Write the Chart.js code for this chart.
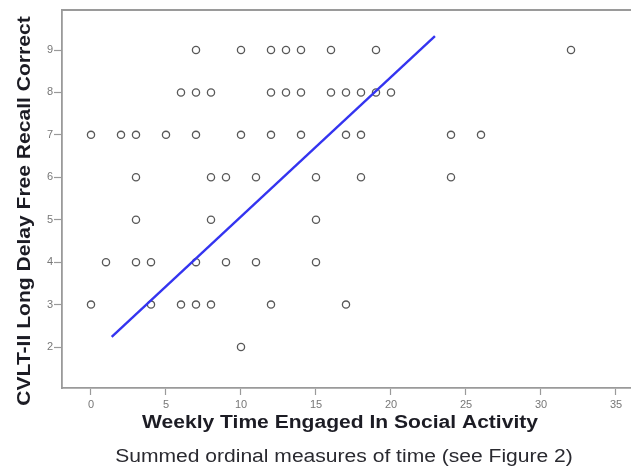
<!DOCTYPE html>
<html>
<head>
<meta charset="utf-8">
<script src="https://cdn.jsdelivr.net/npm/chart.js@4"></script>
<style>
  html, body { margin: 0; padding: 0; background: #fff; overflow: hidden; }
  canvas { display: block; }
</style>
</head>
<body>
<canvas id="chart" width="660" height="466"></canvas>
<script>
// Weekly social activity (summed ordinal time) vs. CVLT-II long delay free recall
const socialTime = [
  7, 10, 12, 13, 14, 16, 19, 32,
  6, 7, 8, 12, 13, 14, 16, 17, 18, 19, 20,
  0, 2, 3, 5, 7, 10, 12, 14, 17, 18, 24, 26,
  3, 8, 9, 11, 15, 18, 24,
  3, 8, 15,
  1, 3, 4, 7, 9, 11, 15,
  0, 4, 6, 7, 8, 12, 17,
  10
];
const recallCorrect = [
  9, 9, 9, 9, 9, 9, 9, 9,
  8, 8, 8, 8, 8, 8, 8, 8, 8, 8, 8,
  7, 7, 7, 7, 7, 7, 7, 7, 7, 7, 7, 7,
  6, 6, 6, 6, 6, 6, 6,
  5, 5, 5,
  4, 4, 4, 4, 4, 4, 4,
  3, 3, 3, 3, 3, 3, 3,
  2
];

// Fitted line endpoints
const fitX = [1.38, 22.93];
const fitY = [2.24, 9.33];

// Axis ticks
const xTickValues = [0, 5, 10, 15, 20, 25, 30, 35];
const yTickValues = [2, 3, 4, 5, 6, 7, 8, 9];

const xTitle = 'Weekly Time Engaged In Social Activity';
const xSubtitle = 'Summed ordinal measures of time (see Figure 2)';
const yTitle = 'CVLT-II Long Delay Free Recall Correct';

const points = socialTime.map((x, i) => ({ x, y: recallCorrect[i] }));
const fitLine = fitX.map((x, i) => ({ x, y: fitY[i] }));

const FRAME = '#9a9a9a';

// Axis captions drawn in a slightly widened bold face
const captions = {
  id: 'captions',
  afterDraw(chart) {
    const ctx = chart.ctx;
    const put = (text, x, y, font, color, rot) => {
      ctx.save();
      ctx.translate(x, y);
      if (rot) ctx.rotate(rot);
      ctx.scale(1.17, 1);
      ctx.font = font;
      ctx.fillStyle = color;
      ctx.textAlign = 'center';
      ctx.textBaseline = 'middle';
      ctx.fillText(text, 0, 0);
      ctx.restore();
    };
    const fam = '"Liberation Sans", Arial, sans-serif';
    put(xTitle, 340, 423, 'bold 18px ' + fam, '#1c1c24');
    put(xSubtitle, 344, 457, '18px ' + fam, '#2a2a30');
    put(yTitle, 25, 211, 'bold 18px ' + fam, '#1c1c24', -Math.PI / 2);
  }
};

// Top and right edges of the plot frame
const frame = {
  id: 'frame',
  beforeDatasetsDraw(chart) {
    const { ctx, chartArea: a } = chart;
    ctx.save();
    ctx.strokeStyle = FRAME;
    ctx.lineWidth = 1.8;
    ctx.beginPath();
    ctx.moveTo(a.left, a.top);
    ctx.lineTo(a.right, a.top);
    ctx.lineTo(a.right, a.bottom);
    ctx.stroke();
    ctx.restore();
  }
};

new Chart(document.getElementById('chart'), {
  type: 'scatter',
  data: {
    datasets: [
      {
        type: 'scatter',
        data: points,
        pointStyle: 'circle',
        pointRadius: 3.6,
        pointBorderWidth: 1.3,
        pointBorderColor: '#585858',
        pointBackgroundColor: 'rgba(0,0,0,0)',
        order: 2
      },
      {
        type: 'line',
        data: fitLine,
        borderColor: '#3434f0',
        borderWidth: 2.4,
        pointRadius: 0,
        fill: false,
        tension: 0,
        order: 1
      }
    ]
  },
  options: {
    responsive: false,
    devicePixelRatio: 1,
    animation: false,
    layout: { padding: { left: 0, top: 10, right: 14, bottom: 0 } },
    plugins: {
      legend: { display: false },
      tooltip: { enabled: false }
    },
    scales: {
      x: {
        type: 'linear',
        min: -1.933,
        max: 37,
        afterBuildTicks(scale) { scale.ticks = xTickValues.map(v => ({ value: v })); },
        afterFit(scale) { scale.height = 78; },
        grid: { drawOnChartArea: false, drawTicks: true, tickLength: 7, tickWidth: 1.2, color: FRAME },
        border: { display: true, color: FRAME, width: 1.8 },
        ticks: {
          padding: 3,
          color: '#777',
          maxRotation: 0,
          font: { family: '"Liberation Sans", Arial, sans-serif', size: 11 }
        }
      },
      y: {
        type: 'linear',
        min: 1.034,
        max: 9.943,
        afterBuildTicks(scale) { scale.ticks = yTickValues.map(v => ({ value: v })); },
        afterFit(scale) { scale.width = 62; },
        grid: { drawOnChartArea: false, drawTicks: true, tickLength: 8, tickWidth: 1.2, color: FRAME },
        border: { display: true, color: FRAME, width: 1.8 },
        ticks: {
          padding: 1,
          color: '#777',
          font: { family: '"Liberation Sans", Arial, sans-serif', size: 11 }
        }
      }
    }
  },
  plugins: [frame, captions]
});
</script>
</body>
</html>
